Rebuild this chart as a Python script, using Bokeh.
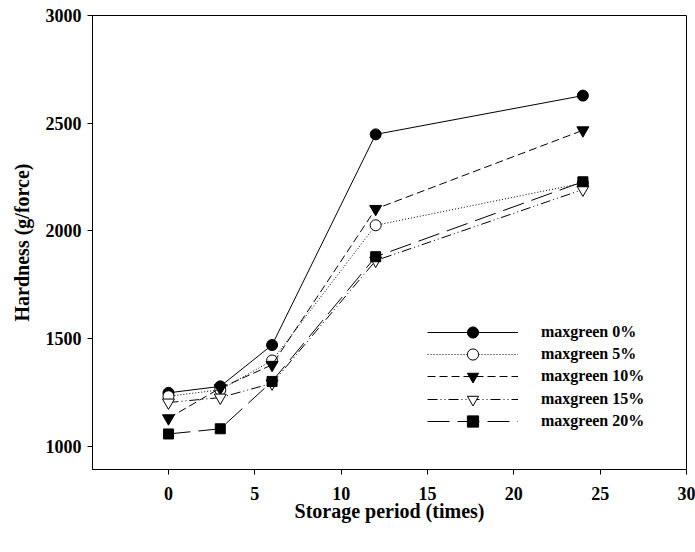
from bokeh.plotting import figure
from bokeh.models import Legend, LegendItem, Range1d, FixedTicker
from bokeh.embed import file_html
from bokeh.resources import INLINE

# Data
storage = [0, 3, 6, 12, 24]
labels = ["maxgreen 0%", "maxgreen 5%", "maxgreen 10%", "maxgreen 15%", "maxgreen 20%"]
g0 = [1248, 1278, 1470, 2448, 2628]
g5 = [1232, 1262, 1398, 2026, 2222]
g10 = [1130, 1270, 1378, 2102, 2467]
g15 = [1203, 1226, 1292, 1862, 2192]
g20 = [1057, 1081, 1301, 1880, 2228]
x_ticks = [0, 5, 10, 15, 20, 25, 30]
y_ticks = [1000, 1500, 2000, 2500, 3000]

FONT = "Liberation Serif"

p = figure(width=695, height=552, output_backend="svg", toolbar_location=None,
           x_range=Range1d(-4.4, 30), y_range=Range1d(892, 3000),
           min_border_left=92, min_border_right=9, min_border_top=15, min_border_bottom=83)
p.grid.visible = False
p.outline_line_color = "black"
p.outline_line_width = 1
p.background_fill_color = "white"

styles = [
    dict(dash="solid", marker="circle", fill="black", size=11),
    dict(dash="1 2", marker="circle", fill="white", size=11),
    dict(dash="8 4", marker="inverted_triangle", fill="black", size=12),
    dict(dash="10 3 1 3 1 3", marker="inverted_triangle", fill="white", size=12),
    dict(dash="22 8", marker="square", fill="black", size=10),
]
series = [g0, g5, g10, g15, g20]
for i, (lab, ys, st) in enumerate(zip(labels, series, styles)):
    ln = p.line(storage, ys, line_color="black", line_width=1, line_dash=st["dash"])
    sc = p.scatter(storage, ys, marker=st["marker"], size=st["size"],
                   fill_color=st["fill"], line_color="black", line_width=1)
    leg = Legend(items=[LegendItem(label=lab, renderers=[ln, sc])],
                 location=(335, round(123.3 - i * 22.3)), glyph_width=91, glyph_height=28,
                 padding=0, margin=0, label_standoff=23,
                 label_text_font=FONT, label_text_font_style="bold",
                 label_text_font_size="16px", label_text_color="black",
                 border_line_alpha=0, background_fill_alpha=0)
    p.add_layout(leg, "center")

p.xaxis.ticker = FixedTicker(ticks=x_ticks)
p.yaxis.ticker = FixedTicker(ticks=y_ticks)
for ax in (p.xaxis[0], p.yaxis[0]):
    ax.major_tick_out = 5
    ax.major_tick_in = 0
    ax.minor_tick_out = 0
    ax.minor_tick_in = 0
    ax.axis_line_color = "black"
    ax.major_tick_line_color = "black"
    ax.major_label_text_font = FONT
    ax.major_label_text_font_style = "bold"
    ax.major_label_text_font_size = "18px"
    ax.major_label_text_color = "black"
    ax.axis_label_text_font = FONT
    ax.axis_label_text_font_style = "bold"
    ax.axis_label_text_font_size = "20px"
    ax.axis_label_text_color = "black"

p.xaxis.axis_label = "Storage period (times)"
p.yaxis.axis_label = "Hardness (g/force)"
p.xaxis.major_label_standoff = 12
p.xaxis.axis_label_standoff = -3
p.yaxis.major_label_standoff = 6
p.yaxis.axis_label_standoff = 10

open("out.html", "w").write(file_html(p, INLINE))
